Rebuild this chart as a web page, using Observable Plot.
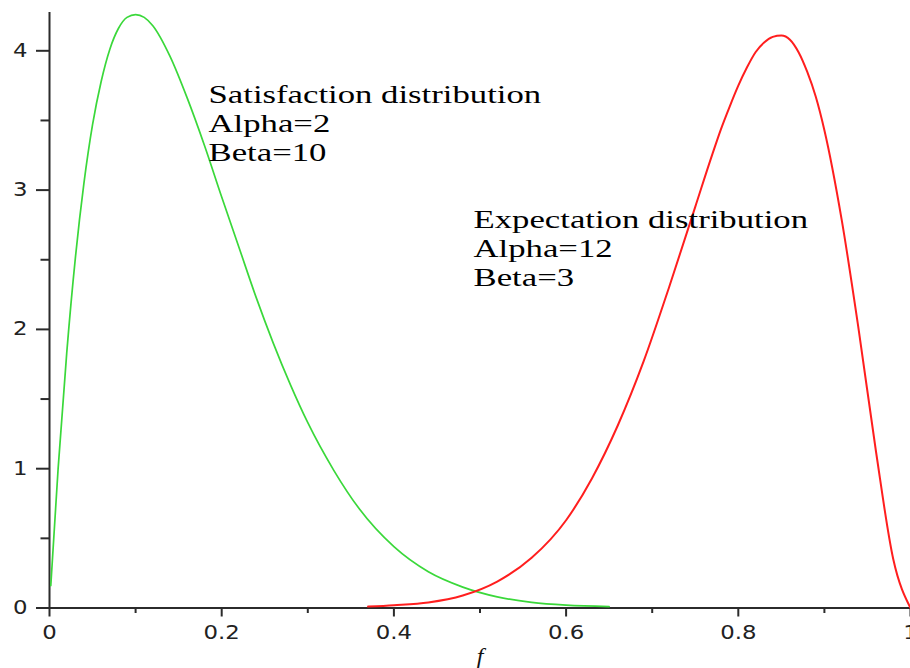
<!DOCTYPE html>
<html><head><meta charset="utf-8">
<script src="https://cdn.jsdelivr.net/npm/d3@7"></script>
<script src="https://cdn.jsdelivr.net/npm/@observablehq/plot@0.6"></script>
<style>
html,body{margin:0;padding:0;background:#fff;}
</style>
</head><body><div id="chart"></div>
<script>
// Satisfaction distribution (green)
const satX = [0.0015,0.01,0.02,0.03,0.04,0.05,0.06,0.07,0.08,0.09,0.10,0.11,0.12,0.14,0.16,0.18,0.20,0.22,0.24,0.26,0.28,0.30,0.33,0.36,0.40,0.44,0.48,0.52,0.56,0.60,0.65];
const satY = [0.16,1.00,1.83,2.51,3.05,3.47,3.78,4.01,4.16,4.24,4.26,4.24,4.18,3.96,3.66,3.32,2.95,2.59,2.23,1.90,1.60,1.33,0.99,0.71,0.44,0.26,0.15,0.08,0.04,0.02,0.01];
// Expectation distribution (red)
const expX = [0.37,0.40,0.44,0.48,0.52,0.56,0.60,0.63,0.66,0.69,0.72,0.75,0.77,0.78,0.79,0.80,0.81,0.82,0.83,0.84,0.85,0.86,0.87,0.88,0.89,0.90,0.92,0.94,0.96,0.98,1.0];
const expY = [0.01,0.02,0.04,0.09,0.19,0.36,0.63,0.93,1.31,1.77,2.31,2.88,3.26,3.44,3.60,3.75,3.88,3.99,4.06,4.10,4.11,4.08,3.99,3.85,3.67,3.43,2.79,1.99,1.12,0.35,0.0];

const xTicks = [0,0.2,0.4,0.6,0.8,1];
const xTickLabels = ["0","0.2","0.4","0.6","0.8","1"];
const xMinorTicks = [0.1,0.3,0.5,0.7,0.9];
const yTicks = [0,1,2,3,4];
const yTickLabels = ["0","1","2","3","4"];
const yMinorTicks = [0.5,1.5,2.5,3.5];
const satLines = ["Satisfaction distribution","Alpha=2","Beta=10"];
const expLines = ["Expectation distribution","Alpha=12","Beta=3"];
const xLabel = "f";

const sat = satX.map((x,i)=>({x, y: satY[i]}));
const exp = expX.map((x,i)=>({x, y: expY[i]}));

const axisColor = "#2b2b2b";
const serif = "'Liberation Serif', 'Times New Roman', serif";

const chart = Plot.plot({
  width: 910,
  height: 668,
  marginLeft: 49,
  marginRight: 0,
  marginTop: 12,
  marginBottom: 60.5,
  style: {fontFamily: "'DejaVu Sans', sans-serif", fontSize: "19px", background: "#fff", color: "#222"},
  x: {domain: [0,1]},
  y: {domain: [0,4.275]},
  marks: [
    Plot.ruleY([0], {x1: () => 0, x2: () => 1, stroke: axisColor, strokeWidth: 2}),
    Plot.ruleX([0], {y1: () => 0, y2: () => 4.275, stroke: axisColor, strokeWidth: 2}),
    Plot.axisX(xTicks, {tickSize: 9, tickPadding: 8, tickFormat: d => xTickLabels[xTicks.indexOf(d)], stroke: axisColor, strokeWidth: 2, fill: "#222", label: null}),
    Plot.axisX(xMinorTicks, {tickSize: 5.5, tickFormat: () => "", stroke: axisColor, strokeWidth: 2, label: null}),
    Plot.axisY(yTicks, {tickSize: 13, tickPadding: 9, tickFormat: d => yTickLabels[yTicks.indexOf(d)], stroke: axisColor, strokeWidth: 2, fill: "#222", label: null}),
    Plot.axisY(yMinorTicks, {tickSize: 8.5, tickFormat: () => "", stroke: axisColor, strokeWidth: 2, label: null}),
    Plot.line(sat, {x: "x", y: "y", stroke: "#3ad83a", strokeWidth: 1.7, curve: "monotone-x"}),
    Plot.line(exp, {x: "x", y: "y", stroke: "#ff1e1e", strokeWidth: 2, curve: "monotone-x"}),
    Plot.text([satLines.join("\n")], {x: () => 0.1847, y: () => 3.2125, text: d => d, textAnchor: "start", lineAnchor: "bottom", lineHeight: 1.115, fontFamily: serif, fontSize: 26, fill: "#000"}),
    Plot.text([expLines.join("\n")], {x: () => 0.4925, y: () => 2.315, text: d => d, textAnchor: "start", lineAnchor: "bottom", lineHeight: 1.115, fontFamily: serif, fontSize: 26, fill: "#000"}),
    Plot.text([xLabel], {x: () => 0.5, frameAnchor: "bottom", dy: 55, lineAnchor: "bottom", text: d => d, fontFamily: serif, fontStyle: "italic", fontSize: 20, fill: "#111"})
  ]
});
document.getElementById("chart").append(chart);
const stretch = (el, k) => {
  const w = el.getComputedTextLength();
  if (w > 0) {
    el.setAttribute("textLength", (w * k).toFixed(2));
    el.setAttribute("lengthAdjust", "spacingAndGlyphs");
  }
};
chart.querySelectorAll("text").forEach(t => {
  const spans = t.querySelectorAll("tspan");
  if (spans.length) spans.forEach(s => stretch(s, 1.335)); else stretch(t, 1.2);
});
</script>
</body></html>
